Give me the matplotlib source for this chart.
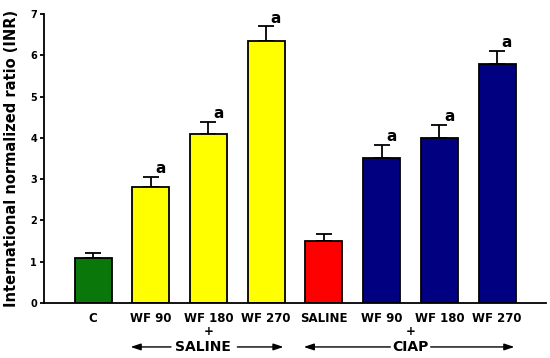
import numpy as np
import matplotlib.pyplot as plt

# podaci
labels = ['C', 'WF 90', 'WF 180', 'WF 270', 'SALINE', 'WF 90', 'WF 180', 'WF 270']
inr = [1.1, 2.8, 4.1, 6.35, 1.5, 3.5, 4.0, 5.8]
sem = [0.1, 0.25, 0.28, 0.35, 0.18, 0.32, 0.32, 0.3]
colors = ['#0a770a', '#ffff00', '#ffff00', '#ffff00', '#ff0000', '#000080', '#000080', '#000080']
signif = ['', 'a', 'a', 'a', '', 'a', 'a', 'a']

x = np.arange(len(labels))

fig = plt.figure(figsize=(5.5, 3.58), dpi=100)
ax = fig.add_axes([0.08, 0.1536, 0.913, 0.8074])

ax.bar(x, inr, width=0.64, color=colors, edgecolor='black', linewidth=1.3, zorder=2)
ax.errorbar(x, inr, yerr=[np.zeros(len(sem)), sem], fmt='none', ecolor='black',
            elinewidth=1.3, capsize=6, capthick=1.3, zorder=1)

for xi, v, e, s in zip(x, inr, sem, signif):
    if s:
        ax.text(xi + 0.17, v + e + 0.02, s, ha='center', va='bottom',
                fontsize=11, fontweight='bold')

ax.set_xlim(-0.85, 7.85)
ax.set_ylim(0, 7)
ax.set_yticks(range(8))
ax.tick_params(axis='y', labelsize=7, width=1.3, length=3, pad=2)
for t in ax.get_yticklabels():
    t.set_fontweight('bold')
ax.set_xticks([])
for sp in ['top', 'right']:
    ax.spines[sp].set_visible(False)
ax.spines['left'].set_linewidth(1.3)
ax.spines['bottom'].set_linewidth(1.3)

ax.set_ylabel('International normalized ratio (INR)', fontsize=10.5, fontweight='bold', labelpad=8)

tr = ax.get_xaxis_transform()
for xi, lab in zip(x, labels):
    ax.text(xi, -0.055, lab, transform=tr, ha='center', va='center',
            fontsize=8.5, fontweight='bold')

ax.text(2.0, -0.1, '+', transform=tr, ha='center', va='center', fontsize=8.5, fontweight='bold')
ax.text(5.5, -0.1, '+', transform=tr, ha='center', va='center', fontsize=8.5, fontweight='bold')

ax.text(1.9, -0.152, 'SALINE', transform=tr, ha='center', va='center', fontsize=10, fontweight='bold')
ax.text(5.5, -0.152, 'CIAP', transform=tr, ha='center', va='center', fontsize=10, fontweight='bold')

arrow = dict(arrowstyle='-|>,head_length=0.6,head_width=0.2', color='black', lw=1.0,
             shrinkA=0, shrinkB=0)
ax.annotate('', xy=(0.65, -0.152), xytext=(1.35, -0.152), xycoords=tr, textcoords=tr,
            arrowprops=arrow, annotation_clip=False)
ax.annotate('', xy=(3.3, -0.152), xytext=(2.5, -0.152), xycoords=tr, textcoords=tr,
            arrowprops=arrow, annotation_clip=False)
ax.annotate('', xy=(3.65, -0.152), xytext=(5.15, -0.152), xycoords=tr, textcoords=tr,
            arrowprops=arrow, annotation_clip=False)
ax.annotate('', xy=(7.3, -0.152), xytext=(5.85, -0.152), xycoords=tr, textcoords=tr,
            arrowprops=arrow, annotation_clip=False)

plt.savefig('out.png', dpi=100)
